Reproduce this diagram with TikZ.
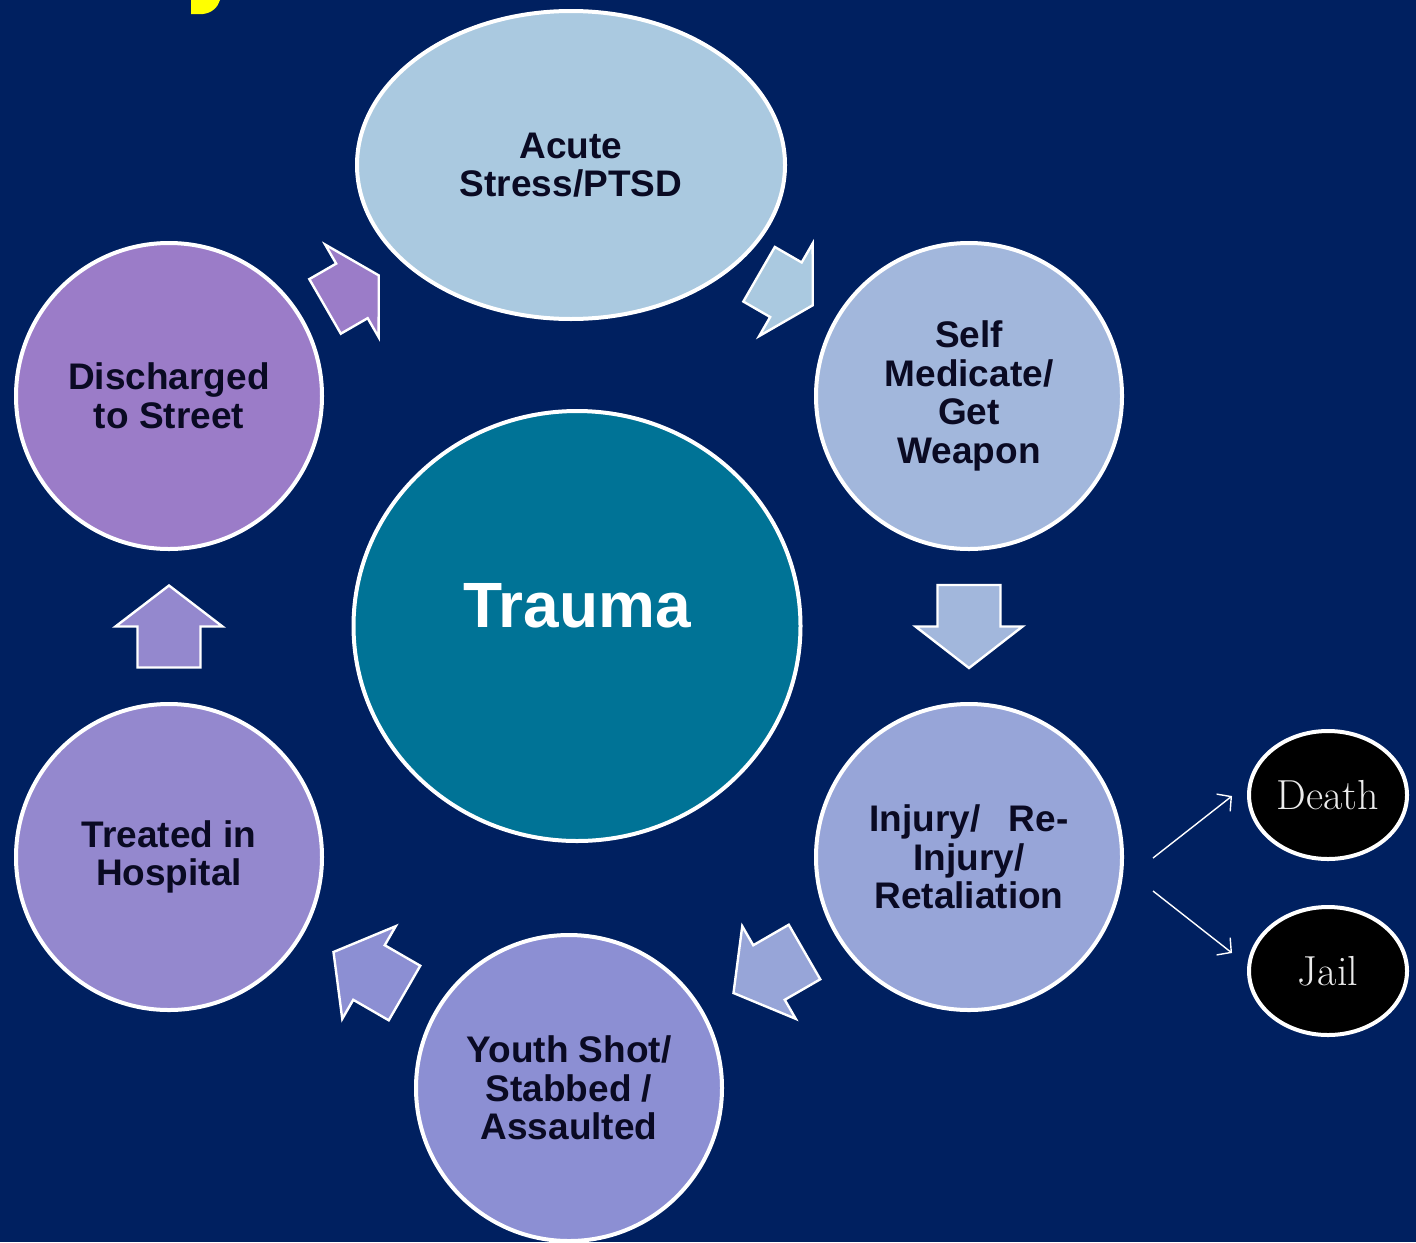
\documentclass[tikz,border=0pt]{standalone}
\usepackage{fontspec}
\setsansfont{Liberation Sans}
\usetikzlibrary{shapes.geometric,calc,arrows.meta}

\definecolor{navy}{RGB}{0,32,96}
\definecolor{inkdark}{RGB}{10,10,35}
\definecolor{stressblue}{RGB}{170,201,224}
\definecolor{medblue}{RGB}{162,183,220}
\definecolor{injblue}{RGB}{151,165,216}
\definecolor{youthlav}{RGB}{140,143,211}
\definecolor{hosplav}{RGB}{148,136,206}
\definecolor{streetpurple}{RGB}{155,124,200}
\definecolor{traumateal}{RGB}{0,115,150}
\definecolor{titleyellow}{RGB}{255,255,0}

\tikzset{
  stage/.style={circle, draw=white, line width=2pt, minimum size=153pt, inner sep=0pt,
    align=center, text=inkdark, font=\sffamily\bfseries\fontsize{18.5}{19.3}\selectfont},
  outcome/.style={ellipse, draw=white, line width=2pt, fill=black, minimum width=79pt,
    minimum height=64pt, inner sep=0pt, text=white!92!black, font=\rmfamily\fontsize{21}{21}\selectfont},
  thinarrow/.style={draw=white, line width=0.7pt, -{Straight Barb[length=5pt,width=11pt]}},
  pics/blockarrow/.style 2 args={code={
    \filldraw[fill=#1, draw=white, line width=1.2pt] (-#2/2,-31.5) -- (0,-31.5) -- (0,-53.5)
      -- (#2/2,0) -- (0,53.5) -- (0,31.5) -- (-#2/2,31.5) -- cycle;
  }},
}

\begin{document}
\begin{tikzpicture}[x=0.5pt, y=-0.5pt]
  % page and background
  \fill[navy] (0,0) rectangle (1416,1242);
  \useasboundingbox (0,0) rectangle (1416,1242);

  % tail of the heading letter
  \fill[titleyellow] (191,0) -- (191,14) -- (203,14) .. controls (212,13) and (218,7) .. (220,0) -- cycle;

  % the cycle
  \node[stage, ellipse, fill=stressblue, minimum width=214pt, minimum height=154pt] (acute) at (571,165) {Acute\\Stress/PTSD};
  \node[stage, fill=medblue] (selfmed) at (969,396) {Self\\Medicate/\\Get\\Weapon};
  \node[stage, fill=injblue] (injury) at (969,857) {Injury/\hspace{9pt} Re-\\Injury/\\Retaliation};
  \node[stage, fill=youthlav] (youth) at (569,1088) {Youth Shot/\\Stabbed /\\Assaulted};
  \node[stage, fill=hosplav] (hospital) at (169,857) {Treated in\\Hospital};
  \node[stage, fill=streetpurple] (street) at (169,396) {Discharged\\to Street};

  % centre
  \node[ellipse, draw=white, line width=2pt, fill=traumateal, minimum width=223.5pt, minimum height=215pt,
    label={[text=white, font=\sffamily\bfseries\fontsize{32}{32}\selectfont, yshift=10pt]center:Trauma}] (trauma) at (577,626) {};

  % block arrows between stages
  \pic[rotate=30] at ($(street)!0.455!(acute)$) {blockarrow={streetpurple}{62}};
  \pic[rotate=-30] at ($(acute)!0.54!(selfmed)$) {blockarrow={stressblue}{62}};
  \pic[rotate=-90] at ($(selfmed)!0.5!(injury)$) {blockarrow={medblue}{83}};
  \pic[rotate=-150] at ($(injury)!0.5!(youth)$) {blockarrow={injblue}{82}};
  \pic[rotate=150] at ($(youth)!0.5!(hospital)$) {blockarrow={youthlav}{82}};
  \pic[rotate=90] at ($(hospital)!0.5!(street)$) {blockarrow={hosplav}{82}};

  % outcomes
  \node[outcome] (death) at (1328,795) {Death};
  \node[outcome] (jail) at (1328,971) {Jail};

  \coordinate (forkup) at (1153,858);
  \coordinate (forkdown) at (1153,891);
  \draw[thinarrow] (forkup) -- ([shift={(-15,1)}]death.west);
  \draw[thinarrow] (forkdown) -- ([shift={(-15,-18)}]jail.west);
\end{tikzpicture}
\end{document}
